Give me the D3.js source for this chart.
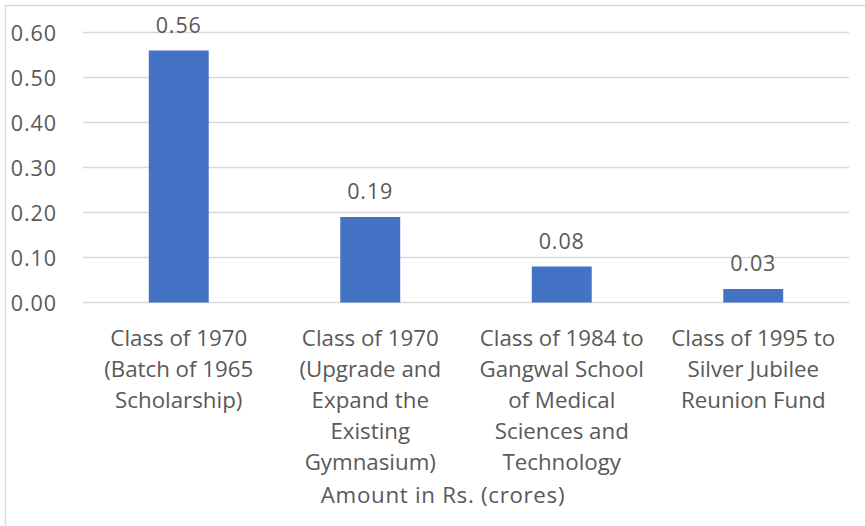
<!DOCTYPE html>
<html>
<head>
<meta charset="utf-8">
<script src="https://cdn.jsdelivr.net/npm/d3@7"></script>
<style>
  html, body { margin: 0; padding: 0; background: #ffffff; }
  svg { display: block; }
  text { font-family: "Open Sans", sans-serif; fill: #595959; }
</style>
</head>
<body>
<svg id="chart" width="865" height="526"></svg>
<script>
const categories = [
  ["Class of 1970", "(Batch of 1965", "Scholarship)"],
  ["Class of 1970", "(Upgrade and", "Expand the", "Existing", "Gymnasium)"],
  ["Class of 1984 to", "Gangwal School", "of Medical", "Sciences and", "Technology"],
  ["Class of 1995 to", "Silver Jubilee", "Reunion Fund"]
];
const values = [0.56, 0.19, 0.08, 0.03];
const yTicks = [0, 0.1, 0.2, 0.3, 0.4, 0.5, 0.6];
const axisTitle = "Amount in Rs. (crores)";

const svg = d3.select("#chart");
const W = 865, H = 526;

// chart border
svg.append("rect")
  .attr("x", 5.5).attr("y", 5.5)
  .attr("width", W + 10).attr("height", H + 10)
  .attr("fill", "none").attr("stroke", "#d9d9d9").attr("stroke-width", 1.5);

const x = d3.scaleBand()
  .domain(d3.range(categories.length))
  .range([83, 849])
  .paddingInner(0.687)
  .paddingOuter(0.3435);

const y = d3.scaleLinear().domain([0, 0.6]).range([302.5, 32.5]);

// gridlines
svg.append("g").selectAll("line").data(yTicks).join("line")
  .attr("x1", 83).attr("x2", 849)
  .attr("y1", d => y(d)).attr("y2", d => y(d))
  .attr("stroke", "#d9d9d9").attr("stroke-width", 1.5);

// y axis labels via d3 axis
const yAxis = d3.axisLeft(y).tickValues(yTicks).tickFormat(d3.format(".2f")).tickSize(0).tickPadding(0);
const gy = svg.append("g").attr("transform", "translate(57,0)").call(yAxis);
gy.select(".domain").remove();
gy.selectAll("text")
  .attr("font-family", "Open Sans, sans-serif")
  .attr("font-size", 21.5)
  .attr("letter-spacing", 0.9)
  .attr("fill", "#595959")
  .attr("dy", "0.35em");

// bars
svg.append("g").selectAll("rect").data(values).join("rect")
  .attr("x", (d, i) => x(i))
  .attr("width", x.bandwidth())
  .attr("y", d => y(d))
  .attr("height", d => y(0) - y(d))
  .attr("fill", "#4472C4");

// data labels
svg.append("g").selectAll("text").data(values).join("text")
  .attr("x", (d, i) => x(i) + x.bandwidth() / 2)
  .attr("y", d => y(d) - 18)
  .attr("text-anchor", "middle")
  .attr("font-size", 21.5)
  .attr("letter-spacing", 0.9)
  .text(d => d3.format(".2f")(d));

// category labels
const cat = svg.append("g").selectAll("text").data(categories).join("text")
  .attr("x", (d, i) => x(i) + x.bandwidth() / 2)
  .attr("y", 346)
  .attr("text-anchor", "middle")
  .attr("font-size", 22.3);
cat.selectAll("tspan").data(d => d).join("tspan")
  .attr("x", function() { return d3.select(this.parentNode).attr("x"); })
  .attr("dy", (d, j) => j === 0 ? 0 : 31)
  .text(d => d);

// axis title
svg.append("text")
  .attr("x", 443).attr("y", 503)
  .attr("text-anchor", "middle")
  .attr("font-size", 22.3)
  .attr("letter-spacing", 0.7)
  .text(axisTitle);
</script>
</body>
</html>
